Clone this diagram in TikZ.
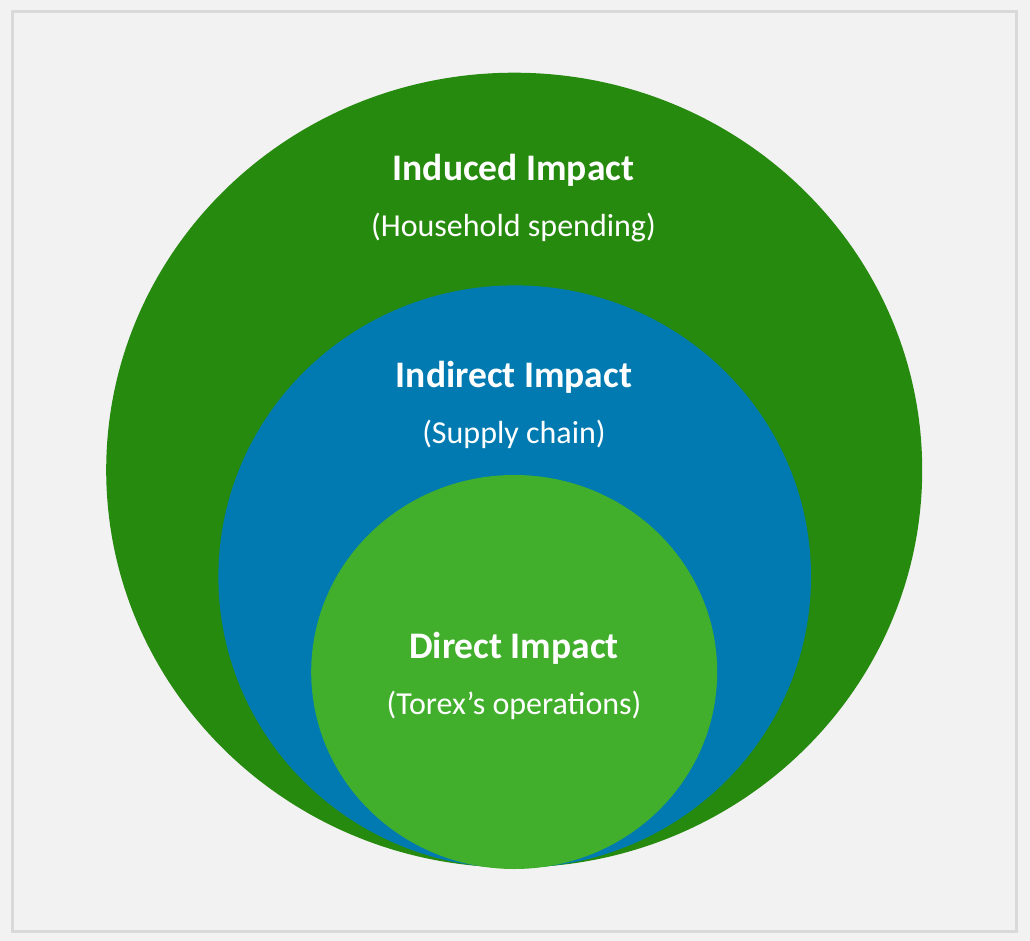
\documentclass[tikz,border=0pt]{standalone}
\usepackage{fontspec}
\setmainfont{Carlito}
\definecolor{bgc}{HTML}{F2F2F2}
\definecolor{framec}{HTML}{D9D9D9}
\definecolor{outerg}{HTML}{268A0E}
\definecolor{midb}{HTML}{007AB0}
\definecolor{innerg}{HTML}{42AF2C}
\begin{document}
\begin{tikzpicture}[x=1pt,y=-1pt,
  ttl/.style={anchor=base,text=white,font=\fontsize{37.5}{40}\selectfont\bfseries,inner sep=0pt},
  sub/.style={anchor=base,text=white,font=\fontsize{32}{36}\selectfont,inner sep=0pt}]
\fill[bgc] (0,0) rectangle (1030,941);
\useasboundingbox (0,0) rectangle (1030,941);
\draw[framec,line width=2.6pt] (12.5,11.5) rectangle (1016.5,931.5);
\fill[outerg] (514.2,470.1) ellipse [x radius=408, y radius=397.4];
\fill[midb] (514.7,576.7) ellipse [x radius=296.3, y radius=291.3];
\fill[innerg] (514.2,672) ellipse [x radius=203, y radius=197];
\node[ttl] (t1) at (513.5,180.5) {Induced Impact};
\node[sub] (s1) at (513.5,237) {(Household spending)};
\node[ttl] (t2) at (514,387.5) {Indirect Impact};
\node[sub] (s2) at (514,443.5) {(Supply chain)};
\node[ttl] (t3) at (514,658.5) {Direct Impact};
\node[sub] (s3) at (514,714) {(Torex’s operations)};
\end{tikzpicture}
\end{document}
